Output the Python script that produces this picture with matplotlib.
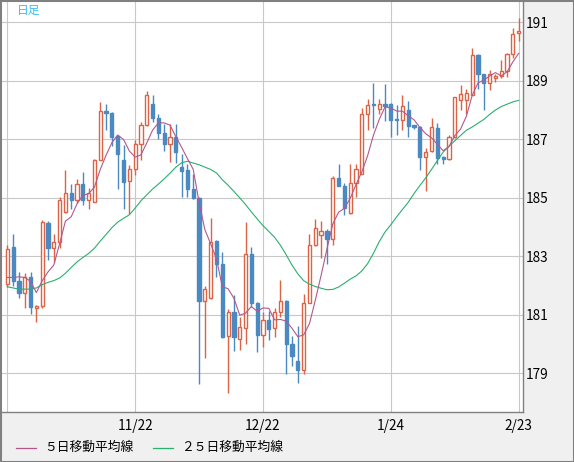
import matplotlib
matplotlib.use("Agg")
import matplotlib.pyplot as plt
from matplotlib.lines import Line2D
from matplotlib.patches import Rectangle
import numpy as np
import pandas as pd

plt.rcParams['font.family'] = ['Noto Sans CJK JP', 'DejaVu Sans']

# daily candles, oldest first
opens = [182.05, 183.31, 182.17, 181.76, 182.30, 181.24, 181.31, 184.13, 183.27, 183.48,
         184.51, 185.17, 184.94, 185.48, 184.94, 184.87, 186.30, 187.96, 187.91, 187.10,
         186.31, 185.56, 185.99, 186.85, 187.48, 188.22, 187.74, 187.23, 186.85, 187.08,
         186.07, 185.94, 185.31, 185.00, 181.46, 181.57, 183.52, 182.74, 180.28, 181.10,
         180.17, 180.56, 183.08, 181.40, 180.30, 180.82, 180.54, 181.11, 181.48, 180.02,
         179.42, 179.11, 181.42, 183.39, 183.74, 183.85, 183.60, 185.69, 185.42, 184.47,
         185.51, 185.82, 187.85, 188.20, 188.02, 188.20, 188.22, 187.70, 187.67, 187.99,
         187.48, 187.42, 186.39, 186.59, 187.40, 186.39, 186.34, 187.08, 188.36, 188.34,
         188.53, 189.88, 189.22, 188.91, 189.10, 189.16, 189.33, 189.91, 190.62]
highs = [183.40, 183.77, 182.45, 182.42, 182.48, 181.33, 184.25, 184.22, 183.77, 185.02,
         185.94, 185.46, 185.65, 185.88, 185.34, 186.32, 188.28, 188.22, 187.95, 187.12,
         186.79, 186.11, 186.99, 187.59, 188.64, 188.51, 187.86, 187.51, 187.54, 187.51,
         186.49, 186.17, 185.80, 185.02, 181.99, 184.32, 183.55, 183.14, 181.20, 181.69,
         180.91, 184.16, 183.31, 181.43, 181.11, 181.14, 181.25, 182.19, 181.50, 180.28,
         180.62, 181.71, 183.77, 184.28, 184.22, 183.95, 185.74, 186.14, 185.50, 186.17,
         186.17, 188.07, 188.39, 188.93, 188.37, 188.88, 188.25, 188.16, 188.53, 188.31,
         187.50, 187.45, 186.70, 187.74, 187.57, 186.42, 187.14, 188.45, 188.85, 188.71,
         190.11, 189.90, 189.24, 189.36, 189.23, 189.71, 189.95, 190.79, 191.14]
lows = [181.95, 181.99, 181.59, 181.23, 181.02, 180.74, 181.25, 182.88, 182.79, 183.30,
        184.48, 184.62, 184.82, 184.76, 184.62, 184.85, 186.28, 187.31, 186.76, 185.29,
        184.62, 184.45, 185.77, 186.28, 187.45, 187.59, 187.02, 186.60, 186.22, 186.19,
        185.02, 185.02, 184.97, 178.64, 179.52, 181.55, 182.28, 180.20, 178.34, 179.77,
        179.80, 180.00, 181.27, 179.74, 179.91, 180.13, 180.26, 180.93, 178.97, 179.25,
        178.68, 178.97, 181.40, 183.35, 182.96, 182.74, 183.39, 185.40, 184.43, 184.45,
        185.02, 185.80, 187.31, 187.39, 187.88, 187.63, 187.08, 187.16, 187.31, 187.08,
        187.35, 185.96, 185.22, 186.55, 186.14, 186.17, 186.30, 187.05, 187.99, 187.85,
        188.50, 188.71, 187.99, 188.68, 188.96, 189.10, 189.13, 189.77, 190.37]
closes = [183.25, 182.17, 181.76, 182.30, 181.27, 181.30, 184.19, 183.27, 183.48, 184.91,
          185.17, 184.94, 185.48, 184.94, 185.18, 186.30, 187.96, 187.91, 187.08, 186.49,
          185.54, 185.99, 186.85, 187.48, 188.51, 187.74, 187.23, 186.85, 187.08, 186.56,
          185.91, 185.31, 185.00, 181.46, 181.88, 183.48, 182.74, 180.26, 181.10, 180.26,
          180.59, 183.08, 181.39, 180.30, 180.82, 180.53, 181.11, 181.46, 180.00, 179.59,
          179.11, 181.42, 183.39, 183.97, 183.85, 183.60, 185.69, 185.42, 184.66, 185.51,
          185.97, 187.85, 188.19, 188.16, 188.22, 188.13, 187.67, 187.65, 188.13, 187.46,
          187.42, 186.39, 186.56, 187.42, 186.37, 186.32, 187.08, 188.43, 188.54, 188.57,
          189.88, 189.22, 188.91, 189.23, 189.16, 189.33, 189.91, 190.60, 190.70]
# closes of the four days before the first visible candle (needed for the 5-day average)
prev_closes = [182.17, 181.66, 182.40, 181.92]

# 25-day average
ma25 = [181.96, 181.92, 181.88, 181.88, 181.88, 181.92, 182.03, 182.11, 182.17, 182.26,
        182.42, 182.62, 182.81, 182.96, 183.10, 183.28, 183.52, 183.75, 183.98, 184.17,
        184.30, 184.42, 184.65, 184.90, 185.10, 185.30, 185.47, 185.65, 185.84, 186.05,
        186.20, 186.25, 186.19, 186.13, 186.05, 185.97, 185.85, 185.62, 185.43, 185.22,
        185.00, 184.77, 184.52, 184.28, 184.05, 183.85, 183.65, 183.38, 183.05, 182.70,
        182.40, 182.17, 182.05, 181.97, 181.91, 181.86, 181.87, 181.95, 182.08, 182.22,
        182.33, 182.50, 182.75, 183.10, 183.50, 183.83, 184.08, 184.35, 184.60, 184.85,
        185.15, 185.42, 185.68, 185.97, 186.27, 186.56, 186.76, 186.95, 187.13, 187.31,
        187.42, 187.55, 187.68, 187.85, 188.00, 188.12, 188.20, 188.28, 188.33]

tick_idx = [0, 22, 44, 66, 88]
tick_labels = ['', '11/22', '12/22', '1/24', '2/23']
price_ticks = [179, 181, 183, 185, 187, 189, 191]

UP = '#dc6446'
DOWN = '#4a89c1'
MA5_COL = '#b4588c'
MA25_COL = '#2aaf6e'
W, H = 574, 462

ma5 = pd.Series(prev_closes + closes).rolling(5).mean().iloc[len(prev_closes):].to_numpy()

o = np.array(opens)
h = np.array(highs)
l = np.array(lows)
c = np.array(closes)
x = np.arange(len(c))
up = c >= o

fig = plt.figure(figsize=(W / 100, H / 100), dpi=100, facecolor='#f0f0f0')
ax = fig.add_axes([1.7 / W, 1 - 412 / H, (523.3 - 1.7) / W, (412 - 1.7) / H])
ax.set_facecolor('white')

ax.vlines(x[up], l[up], h[up], color=UP, lw=1, zorder=3)
ax.vlines(x[~up], l[~up], h[~up], color=DOWN, lw=1, zorder=3)
ax.bar(x[up], (c - o)[up], bottom=o[up], width=0.55, facecolor='white',
       edgecolor=UP, lw=1, zorder=4)
ax.bar(x[~up], (o - c)[~up], bottom=c[~up], width=0.55, facecolor=DOWN,
       edgecolor=DOWN, lw=1, zorder=4)
ax.plot(x, ma25, color=MA25_COL, lw=0.8, zorder=5)
ax.plot(x, ma5, color=MA5_COL, lw=0.8, zorder=5)

ax.set_xlim((1.7 - 7.3) / 5.811, (523.3 - 7.3) / 5.811)
ax.set_ylim(177.68, 191.704)
ax.set_xticks(tick_idx)
ax.set_xticklabels(tick_labels)
ax.yaxis.tick_right()
ax.set_yticks(price_ticks)
ax.tick_params(length=0, labelsize=9.8, colors='black')
ax.tick_params(axis='x', pad=5)
ax.tick_params(axis='y', pad=2)
ax.grid(color='#c8c8c8', lw=0.8)
ax.set_axisbelow(True)
for side in ['top', 'left']:
    ax.spines[side].set_visible(False)
for side in ['bottom', 'right']:
    ax.spines[side].set_color('#808080')
    ax.spines[side].set_linewidth(1.0)

fig.text(17 / W, 1 - 10 / H, '日足', color='#3cbef0', fontsize=8.5, va='center', ha='left')

# legend drawn by hand along the bottom strip
ly = 1 - 447.5 / H
fig.add_artist(Line2D([16 / W, 36 / W], [ly, ly], color=MA5_COL, lw=0.9))
fig.text(44 / W, ly, '５日移動平均線', fontsize=9.2, va='center', ha='left')
fig.add_artist(Line2D([153 / W, 173 / W], [ly, ly], color=MA25_COL, lw=0.9))
fig.text(181 / W, ly, '２５日移動平均線', fontsize=9.2, va='center', ha='left')

fig.add_artist(Rectangle((0, 0), 1, 1, transform=fig.transFigure, fill=False,
                         ec='#808080', lw=2.2))

fig.savefig('out.png', dpi=100, facecolor=fig.get_facecolor())
